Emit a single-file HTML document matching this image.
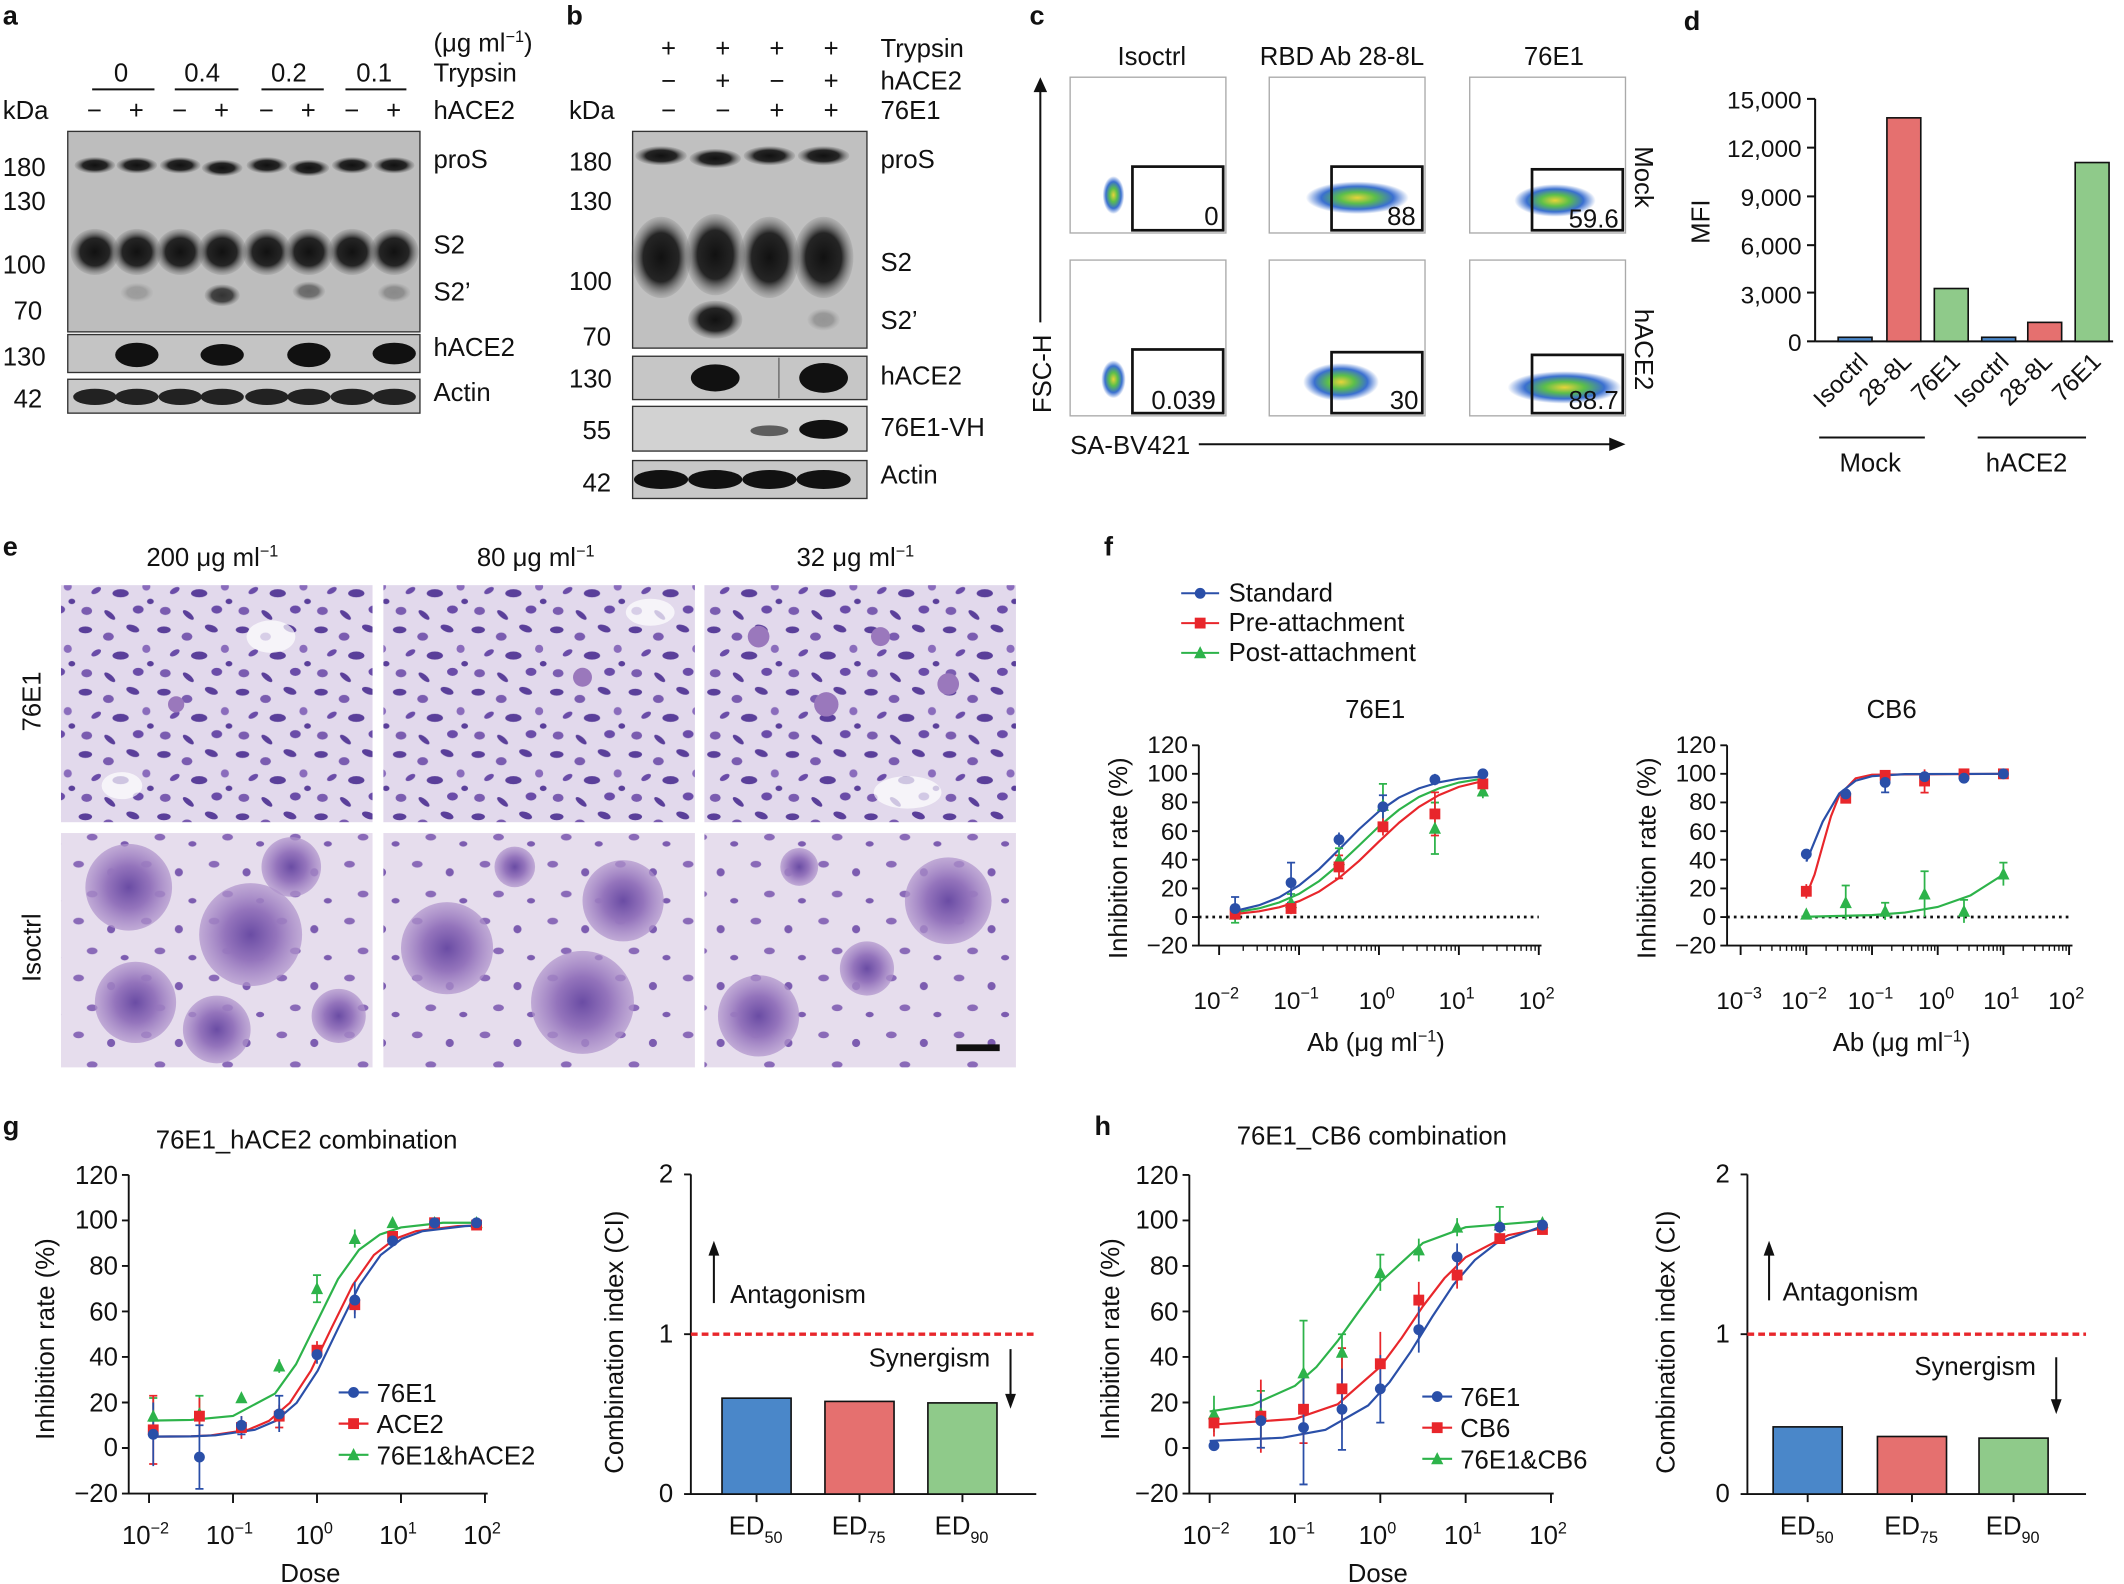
<!DOCTYPE html>
<html><head><meta charset="utf-8">
<style>
html,body{margin:0;padding:0;background:#fff;}
svg{display:block;font-family:"Liberation Sans",Arial,sans-serif;}
</style></head>
<body>
<svg width="2124" height="1584" viewBox="0 0 1568 1169.4" xmlns="http://www.w3.org/2000/svg" xmlns:xlink="http://www.w3.org/1999/xlink">
<defs>
<radialGradient id="band"><stop offset="0" stop-color="#111"/><stop offset="0.6" stop-color="#252525"/><stop offset="1" stop-color="#777" stop-opacity="0.2"/></radialGradient>
<radialGradient id="cloud"><stop offset="0" stop-color="#e8d43a"/><stop offset="0.35" stop-color="#5cbf4a"/><stop offset="0.7" stop-color="#3a6fd0"/><stop offset="1" stop-color="#3a6fd0" stop-opacity="0"/></radialGradient>
<radialGradient id="blob"><stop offset="0" stop-color="#6a4ca4"/><stop offset="0.5" stop-color="#9474bc"/><stop offset="1" stop-color="#b094cc" stop-opacity="0.7"/></radialGradient>
<pattern id="cellsTop" width="58" height="46" patternUnits="userSpaceOnUse">
<rect width="58" height="46" fill="#e2d9ec"/>
<ellipse cx="5" cy="5" rx="5" ry="2.5" fill="#5a3f9a"/><ellipse cx="22" cy="10" rx="4" ry="3" fill="#7a5cb0"/><ellipse cx="40" cy="4" rx="5" ry="2.5" fill="#5a3f9a" transform="rotate(20 40 4)"/>
<ellipse cx="13" cy="22" rx="4" ry="2" fill="#6a4ca8" transform="rotate(-30 13 22)"/><ellipse cx="31" cy="24" rx="6" ry="3" fill="#5a3f9a"/><ellipse cx="50" cy="19" rx="3" ry="3" fill="#8a6cbc"/>
<ellipse cx="6" cy="37" rx="4" ry="3" fill="#7a5cb0"/><ellipse cx="23" cy="40" rx="5" ry="2" fill="#5a3f9a" transform="rotate(40 23 40)"/><ellipse cx="44" cy="36" rx="4" ry="3" fill="#6a4ca8"/><ellipse cx="53" cy="30" rx="2.5" ry="2" fill="#5a3f9a"/>
</pattern>
<pattern id="cellsBot" width="50" height="42" patternUnits="userSpaceOnUse">
<rect width="50" height="42" fill="#e6dded"/>
<ellipse cx="8" cy="8" rx="4" ry="2.5" fill="#8a6ab8"/><ellipse cx="32" cy="14" rx="3" ry="3" fill="#7c5cb0"/><ellipse cx="18" cy="30" rx="4" ry="2.5" fill="#8a6ab8"/><ellipse cx="42" cy="35" rx="3" ry="2" fill="#7c5cb0"/>
</pattern>
<g id="mc"><circle r="4" fill="#2a4fa8"/></g>
<g id="ms"><rect x="-4" y="-4" width="8" height="8" fill="#e8262b"/></g>
<g id="mt"><path d="M-4.5,4 L0,-5 L4.5,4Z" fill="#2db34a"/></g>
<path id="dec59" d="M17.8,0v4M28.1,0v4M35.5,0v4M41.2,0v4M45.9,0v4M49.9,0v4M53.3,0v4M56.3,0v4" stroke="#111"/>
<path id="dec48" d="M14.6,0v4M23.1,0v4M29.2,0v4M33.9,0v4M37.7,0v4M41,0v4M43.8,0v4M46.3,0v4" stroke="#111"/>
</defs>
<g font-size="19" fill="#111">
<text x="2" y="18" font-weight="bold" font-size="20">a</text>
<text x="418" y="18" font-weight="bold" font-size="20">b</text>
<text x="760" y="18" font-weight="bold" font-size="20">c</text>
<text x="1243" y="22" font-weight="bold" font-size="20">d</text>
<text x="2" y="410" font-weight="bold" font-size="20">e</text>
<text x="815" y="410" font-weight="bold" font-size="20">f</text>
<text x="2" y="838" font-weight="bold" font-size="20">g</text>
<text x="808" y="838" font-weight="bold" font-size="20">h</text>

<!-- panel a -->
<text x="320" y="38">(μg ml<tspan font-size="12" dy="-7">−1</tspan><tspan dy="7">)</tspan></text>
<text x="84" y="60">0</text><text x="136" y="60">0.4</text><text x="200" y="60">0.2</text><text x="263" y="60">0.1</text>
<g stroke="#111" stroke-width="1.5"><line x1="68" y1="66" x2="114" y2="66"/><line x1="129" y1="66" x2="176" y2="66"/><line x1="193" y1="66" x2="239" y2="66"/><line x1="255" y1="66" x2="300" y2="66"/></g>
<text x="320" y="60">Trypsin</text>
<text x="2" y="88">kDa</text>
<text x="64" y="88">−</text><text x="95" y="88">+</text><text x="127" y="88">−</text><text x="158" y="88">+</text><text x="191" y="88">−</text><text x="222" y="88">+</text><text x="254" y="88">−</text><text x="285" y="88">+</text>
<text x="320" y="88">hACE2</text>
<text x="2" y="130">180</text><text x="2" y="155">130</text><text x="2" y="202">100</text><text x="10" y="236">70</text><text x="2" y="270">130</text><text x="10" y="301">42</text>
<text x="320" y="124">proS</text><text x="320" y="187">S2</text><text x="320" y="222">S2’</text><text x="320" y="263">hACE2</text><text x="320" y="296">Actin</text>
<rect x="50" y="97" width="260" height="148" fill="#bdbdbd" stroke="#333"/>
<rect x="50" y="247" width="260" height="28" fill="#c4c4c4" stroke="#333"/>
<rect x="50" y="280" width="260" height="25" fill="#c9c9c9" stroke="#333"/>
<g fill="url(#band)">
<ellipse cx="70" cy="122" rx="15" ry="6"/><ellipse cx="101" cy="122" rx="15" ry="6"/><ellipse cx="133" cy="122" rx="15" ry="6"/><ellipse cx="164" cy="124" rx="15" ry="6"/><ellipse cx="197" cy="122" rx="15" ry="6"/><ellipse cx="228" cy="124" rx="15" ry="6"/><ellipse cx="260" cy="122" rx="15" ry="6"/><ellipse cx="291" cy="122" rx="15" ry="6"/>
<ellipse cx="70" cy="186" rx="18" ry="17"/><ellipse cx="101" cy="186" rx="18" ry="17"/><ellipse cx="133" cy="186" rx="18" ry="17"/><ellipse cx="164" cy="186" rx="18" ry="17"/><ellipse cx="197" cy="186" rx="18" ry="17"/><ellipse cx="228" cy="186" rx="18" ry="17"/><ellipse cx="260" cy="186" rx="18" ry="17"/><ellipse cx="291" cy="186" rx="18" ry="17"/>
<ellipse cx="164" cy="218" rx="13" ry="8" opacity="0.8"/><ellipse cx="228" cy="215" rx="12" ry="7" opacity="0.5"/><ellipse cx="291" cy="216" rx="12" ry="7" opacity="0.3"/><ellipse cx="101" cy="216" rx="12" ry="7" opacity="0.2"/>
</g>
<g fill="#111"><ellipse cx="101" cy="262" rx="16" ry="9"/><ellipse cx="164" cy="262" rx="16" ry="8"/><ellipse cx="228" cy="262" rx="16" ry="9"/><ellipse cx="291" cy="261" rx="16" ry="8"/></g>
<g fill="#222"><ellipse cx="70" cy="293" rx="16" ry="6"/><ellipse cx="101" cy="293" rx="16" ry="6"/><ellipse cx="133" cy="293" rx="16" ry="6"/><ellipse cx="164" cy="293" rx="16" ry="6"/><ellipse cx="197" cy="293" rx="16" ry="6"/><ellipse cx="228" cy="293" rx="16" ry="6"/><ellipse cx="260" cy="293" rx="16" ry="6"/><ellipse cx="291" cy="293" rx="16" ry="6"/></g>

<!-- panel b -->
<text x="488" y="42">+</text><text x="528" y="42">+</text><text x="568" y="42">+</text><text x="608" y="42">+</text><text x="650" y="42">Trypsin</text>
<text x="488" y="66">−</text><text x="528" y="66">+</text><text x="568" y="66">−</text><text x="608" y="66">+</text><text x="650" y="66">hACE2</text>
<text x="420" y="88">kDa</text>
<text x="488" y="88">−</text><text x="528" y="88">−</text><text x="568" y="88">+</text><text x="608" y="88">+</text><text x="650" y="88">76E1</text>
<text x="420" y="126">180</text><text x="420" y="155">130</text><text x="420" y="214">100</text><text x="430" y="255">70</text><text x="420" y="286">130</text><text x="430" y="324">55</text><text x="430" y="363">42</text>
<text x="650" y="124">proS</text><text x="650" y="200">S2</text><text x="650" y="243">S2’</text><text x="650" y="284">hACE2</text><text x="650" y="322">76E1-VH</text><text x="650" y="357">Actin</text>
<rect x="467" y="97" width="173" height="160" fill="#c0c0c0" stroke="#333"/>
<rect x="467" y="263" width="173" height="32" fill="#c6c6c6" stroke="#333"/>
<rect x="467" y="300" width="173" height="33" fill="#d2d2d2" stroke="#333"/>
<rect x="467" y="340" width="173" height="28" fill="#c8c8c8" stroke="#333"/>
<g fill="url(#band)">
<ellipse cx="488" cy="115" rx="19" ry="7"/><ellipse cx="528" cy="117" rx="19" ry="7"/><ellipse cx="568" cy="115" rx="19" ry="7"/><ellipse cx="608" cy="115" rx="19" ry="7"/>
<ellipse cx="488" cy="190" rx="22" ry="30"/><ellipse cx="528" cy="188" rx="22" ry="30"/><ellipse cx="568" cy="190" rx="22" ry="30"/><ellipse cx="608" cy="190" rx="22" ry="30"/>
<ellipse cx="528" cy="236" rx="20" ry="14"/><ellipse cx="608" cy="236" rx="12" ry="8" opacity="0.25"/>
</g>
<g fill="#111"><ellipse cx="528" cy="279" rx="18" ry="10"/><ellipse cx="608" cy="279" rx="18" ry="11"/><ellipse cx="568" cy="318" rx="14" ry="4" opacity="0.6"/><ellipse cx="608" cy="317" rx="18" ry="7"/>
<ellipse cx="488" cy="354" rx="20" ry="7"/><ellipse cx="528" cy="354" rx="20" ry="7"/><ellipse cx="568" cy="354" rx="20" ry="7"/><ellipse cx="608" cy="354" rx="20" ry="7"/></g>
<line x1="575" y1="264" x2="575" y2="294" stroke="#666"/>

<!-- panel c -->
<text x="825" y="48">Isoctrl</text><text x="930" y="48">RBD Ab 28-8L</text><text x="1125" y="48">76E1</text>
<g fill="none" stroke="#aaa"><rect x="790" y="57" width="115" height="115"/><rect x="937" y="57" width="115" height="115"/><rect x="1085" y="57" width="115" height="115"/><rect x="790" y="192" width="115" height="115"/><rect x="937" y="192" width="115" height="115"/><rect x="1085" y="192" width="115" height="115"/></g>
<g fill="url(#cloud)">
<ellipse cx="822" cy="144" rx="8" ry="14"/><ellipse cx="1002" cy="146" rx="38" ry="12"/><ellipse cx="1148" cy="148" rx="30" ry="12"/>
<ellipse cx="822" cy="280" rx="9" ry="14"/><ellipse cx="990" cy="282" rx="28" ry="14"/><ellipse cx="1155" cy="286" rx="42" ry="12"/></g>
<g fill="none" stroke="#111" stroke-width="2"><rect x="836" y="123" width="67" height="47"/><rect x="983" y="123" width="67" height="47"/><rect x="1131" y="125" width="67" height="45"/><rect x="836" y="258" width="67" height="47"/><rect x="983" y="260" width="67" height="45"/><rect x="1131" y="262" width="67" height="43"/></g>
<text x="889" y="166">0</text><text x="1024" y="166">88</text><text x="1158" y="168">59.6</text>
<text x="850" y="302">0.039</text><text x="1026" y="302">30</text><text x="1158" y="302">88.7</text>
<text transform="translate(1207,108) rotate(90)">Mock</text>
<text transform="translate(1207,228) rotate(90)">hACE2</text>
<line x1="768" y1="238" x2="768" y2="65" stroke="#111" stroke-width="1.5"/><path d="M763,68 L768,57 L773,68Z"/>
<text transform="translate(776,305) rotate(-90)">FSC-H</text>
<text x="790" y="335">SA-BV421</text>
<line x1="885" y1="328" x2="1190" y2="328" stroke="#111" stroke-width="1.5"/><path d="M1188,323 L1200,328 L1188,333Z"/>

<!-- panel d -->
<g font-size="18" text-anchor="end">
<text x="1330" y="80">15,000</text><text x="1330" y="116">12,000</text><text x="1330" y="152">9,000</text><text x="1330" y="188">6,000</text><text x="1330" y="224">3,000</text><text x="1330" y="259">0</text></g>
<text transform="translate(1262,180) rotate(-90)">MFI</text>
<g stroke="#111" stroke-width="1.5"><line x1="1340" y1="73" x2="1340" y2="252"/><line x1="1340" y1="252" x2="1560" y2="252"/>
<line x1="1334" y1="73" x2="1340" y2="73"/><line x1="1334" y1="109" x2="1340" y2="109"/><line x1="1334" y1="145" x2="1340" y2="145"/><line x1="1334" y1="181" x2="1340" y2="181"/><line x1="1334" y1="216" x2="1340" y2="216"/><line x1="1334" y1="252" x2="1340" y2="252"/></g>
<g stroke="#111" stroke-width="1.2">
<rect x="1357" y="249" width="25" height="3" fill="#4a87c9"/>
<rect x="1393" y="87" width="25" height="165" fill="#e5706f"/>
<rect x="1428" y="213" width="25" height="39" fill="#8fca8a"/>
<rect x="1463" y="249" width="25" height="3" fill="#4a87c9"/>
<rect x="1497" y="238" width="25" height="14" fill="#e5706f"/>
<rect x="1532" y="120" width="25" height="132" fill="#8fca8a"/></g>
<g font-size="18">
<text transform="translate(1380,268) rotate(-45)" text-anchor="end">Isoctrl</text>
<text transform="translate(1412,268) rotate(-45)" text-anchor="end">28-8L</text>
<text transform="translate(1448,268) rotate(-45)" text-anchor="end">76E1</text>
<text transform="translate(1484,268) rotate(-45)" text-anchor="end">Isoctrl</text>
<text transform="translate(1516,268) rotate(-45)" text-anchor="end">28-8L</text>
<text transform="translate(1552,268) rotate(-45)" text-anchor="end">76E1</text></g>
<line x1="1343" y1="323" x2="1421" y2="323" stroke="#111" stroke-width="1.5"/>
<line x1="1460" y1="323" x2="1540" y2="323" stroke="#111" stroke-width="1.5"/>
<text x="1358" y="348">Mock</text><text x="1466" y="348">hACE2</text>

<!-- panel e -->
<text x="108" y="418">200 μg ml<tspan font-size="12" dy="-7">−1</tspan></text>
<text x="352" y="418">80 μg ml<tspan font-size="12" dy="-7">−1</tspan></text>
<text x="588" y="418">32 μg ml<tspan font-size="12" dy="-7">−1</tspan></text>
<text transform="translate(30,540) rotate(-90)">76E1</text>
<text transform="translate(30,725) rotate(-90)">Isoctrl</text>
<rect x="45" y="432" width="230" height="175" fill="url(#cellsTop)"/>
<rect x="283" y="432" width="230" height="175" fill="url(#cellsTop)"/>
<rect x="520" y="432" width="230" height="175" fill="url(#cellsTop)"/>
<g fill="#fff" opacity="0.7"><ellipse cx="200" cy="470" rx="18" ry="12"/><ellipse cx="480" cy="452" rx="18" ry="10"/><ellipse cx="670" cy="585" rx="25" ry="12"/><ellipse cx="90" cy="580" rx="15" ry="10"/></g>
<g fill="#9a78bc"><circle cx="560" cy="470" r="8"/><circle cx="610" cy="520" r="9"/><circle cx="700" cy="505" r="8"/><circle cx="650" cy="470" r="7"/><circle cx="430" cy="500" r="7"/><circle cx="130" cy="520" r="6"/></g>
<rect x="45" y="615" width="230" height="173" fill="url(#cellsBot)"/>
<rect x="283" y="615" width="230" height="173" fill="url(#cellsBot)"/>
<rect x="520" y="615" width="230" height="173" fill="url(#cellsBot)"/>
<g fill="url(#blob)">
<circle cx="95" cy="655" r="32"/><circle cx="185" cy="690" r="38"/><circle cx="215" cy="640" r="22"/><circle cx="100" cy="740" r="30"/><circle cx="160" cy="760" r="25"/><circle cx="250" cy="750" r="20"/>
<circle cx="460" cy="665" r="30"/><circle cx="330" cy="700" r="34"/><circle cx="430" cy="740" r="38"/><circle cx="380" cy="640" r="15"/>
<circle cx="700" cy="665" r="32"/><circle cx="640" cy="715" r="20"/><circle cx="560" cy="750" r="30"/><circle cx="590" cy="640" r="14"/></g>
<rect x="706" y="771" width="32" height="5" fill="#111"/>

<!-- panel f legend -->
<line x1="872" y1="438" x2="900" y2="438" stroke="#2a4fa8" stroke-width="1.5"/><use xlink:href="#mc" x="886" y="438"/><text x="907" y="444">Standard</text>
<line x1="872" y1="460" x2="900" y2="460" stroke="#e8262b" stroke-width="1.5"/><use xlink:href="#ms" x="886" y="460"/><text x="907" y="466">Pre-attachment</text>
<line x1="872" y1="482" x2="900" y2="482" stroke="#2db34a" stroke-width="1.5"/><use xlink:href="#mt" x="886" y="482"/><text x="907" y="488">Post-attachment</text>
<text x="993" y="530">76E1</text><text x="1378" y="530">CB6</text>
<text transform="translate(832,708) rotate(-90)">Inhibition rate (%)</text>
<text transform="translate(1222,708) rotate(-90)">Inhibition rate (%)</text>
<text x="965" y="776">Ab (μg ml<tspan font-size="12" dy="-7">−1</tspan><tspan dy="7">)</tspan></text>
<text x="1353" y="776">Ab (μg ml<tspan font-size="12" dy="-7">−1</tspan><tspan dy="7">)</tspan></text>

<!-- f1 axes -->
<g stroke="#111" stroke-width="1.4" fill="none">
<path d="M885,550.2V698.1H1138"/>
<path d="M880,698.1h5M880,677h5M880,655.9h5M880,634.7h5M880,613.6h5M880,592.4h5M880,571.3h5M880,550.2h5"/>
<path d="M900,698v7M959,698v7M1018,698v7M1077,698v7M1136,698v7"/>
<path d="M885,677H1136" stroke-width="2" stroke-dasharray="2,3"/>
<path d="M1275,550.2V698.1H1530"/>
<path d="M1270,698.1h5M1270,677h5M1270,655.9h5M1270,634.7h5M1270,613.6h5M1270,592.4h5M1270,571.3h5M1270,550.2h5"/>
<path d="M1285,698v7M1333.5,698v7M1382,698v7M1430.5,698v7M1479,698v7M1527.5,698v7"/>
<path d="M1275,677H1527" stroke-width="2" stroke-dasharray="2,3"/>
</g>
<use xlink:href="#dec59" x="900" y="698"/><use xlink:href="#dec59" x="959" y="698"/><use xlink:href="#dec59" x="1018" y="698"/><use xlink:href="#dec59" x="1077" y="698"/>
<use xlink:href="#dec48" x="1285" y="698"/><use xlink:href="#dec48" x="1333.5" y="698"/><use xlink:href="#dec48" x="1382" y="698"/><use xlink:href="#dec48" x="1430.5" y="698"/><use xlink:href="#dec48" x="1479" y="698"/>
<g text-anchor="end" font-size="18">
<text x="877" y="704">−20</text><text x="877" y="683">0</text><text x="877" y="662">20</text><text x="877" y="641">40</text><text x="877" y="620">60</text><text x="877" y="598">80</text><text x="877" y="577">100</text><text x="877" y="556">120</text>
<text x="1267" y="704">−20</text><text x="1267" y="683">0</text><text x="1267" y="662">20</text><text x="1267" y="641">40</text><text x="1267" y="620">60</text><text x="1267" y="598">80</text><text x="1267" y="577">100</text><text x="1267" y="556">120</text>
</g>
<g font-size="18">
<text x="881" y="745">10<tspan font-size="12" dy="-8">−2</tspan></text><text x="940" y="745">10<tspan font-size="12" dy="-8">−1</tspan></text><text x="1003" y="745">10<tspan font-size="12" dy="-8">0</tspan></text><text x="1062" y="745">10<tspan font-size="12" dy="-8">1</tspan></text><text x="1121" y="745">10<tspan font-size="12" dy="-8">2</tspan></text>
<text x="1267" y="745">10<tspan font-size="12" dy="-8">−3</tspan></text><text x="1315" y="745">10<tspan font-size="12" dy="-8">−2</tspan></text><text x="1364" y="745">10<tspan font-size="12" dy="-8">−1</tspan></text><text x="1416" y="745">10<tspan font-size="12" dy="-8">0</tspan></text><text x="1464" y="745">10<tspan font-size="12" dy="-8">1</tspan></text><text x="1512" y="745">10<tspan font-size="12" dy="-8">2</tspan></text>
</g>
<!-- f1 series -->
<g fill="none" stroke-width="1.6">
<polyline stroke="#2db34a" points="911.8,673.5 929.5,670.6 944.3,666.3 959,659.9 973.8,650.5 988.5,638.2 1003.3,624.2 1018,610.1 1032.8,597.8 1047.5,588.4 1062.3,582 1077,577.7 1094.7,574.8"/>
<polyline stroke="#e8262b" points="911.8,674.8 929.5,672.8 944.3,669.8 959,665.3 973.8,658.2 988.5,648.2 1003.3,635.6 1018,621.3 1032.8,607.4 1047.5,595.7 1062.3,587 1077,580.9 1094.7,576.6"/>
<polyline stroke="#2a4fa8" points="911.8,672.5 929.5,668.3 944.3,662.5 959,653.7 973.8,641.7 988.5,627.2 1003.3,612.2 1018,599 1032.8,588.8 1047.5,582 1062.3,577.5 1077,574.9 1094.7,573.2"/>
<path stroke="#2db34a" stroke-width="1.3" d="M911.8,668.6V681.2M953.1,660V672.8M988.5,626.2V643.2M1020.95,578.7V610.5M1059.3,592.5V630.5M1094.7,578.7V589.3M908.8,668.6h6M908.8,681.2h6M950.1,660h6M950.1,672.8h6M985.5,626.2h6M985.5,643.2h6M1017.95,578.7h6M1017.95,610.5h6M1056.3,592.5h6M1056.3,630.5h6"/>
<path stroke="#e8262b" stroke-width="1.3" d="M953.1,666.5V674.9M988.5,631.5V648.5M1020.95,604V616.8M1059.3,585V616.8M1094.7,574.5V583M1056.3,585h6M1056.3,616.8h6M985.5,631.5h6M985.5,648.5h6"/>
<path stroke="#2a4fa8" stroke-width="1.3" d="M911.8,662.2V679.2M953.1,636.8V666.4M988.5,614.6V625.2M1020.95,587.1V604.1M1059.3,571.3V579.7M908.8,662.2h6M950.1,636.8h6M950.1,666.4h6M1017.95,587.1h6"/>
</g>
<use xlink:href="#mt" x="911.8" y="674.9"/><use xlink:href="#mt" x="953.1" y="666.4"/><use xlink:href="#mt" x="988.5" y="634.7"/><use xlink:href="#mt" x="1020.95" y="594.6"/><use xlink:href="#mt" x="1059.3" y="611.5"/><use xlink:href="#mt" x="1094.7" y="584"/>
<use xlink:href="#ms" x="911.8" y="674.9"/><use xlink:href="#ms" x="953.1" y="670.7"/><use xlink:href="#ms" x="988.5" y="640"/><use xlink:href="#ms" x="1020.95" y="610.4"/><use xlink:href="#ms" x="1059.3" y="600.9"/><use xlink:href="#ms" x="1094.7" y="578.7"/>
<use xlink:href="#mc" x="911.8" y="670.7"/><use xlink:href="#mc" x="953.1" y="651.6"/><use xlink:href="#mc" x="988.5" y="619.9"/><use xlink:href="#mc" x="1020.95" y="595.6"/><use xlink:href="#mc" x="1059.3" y="575.5"/><use xlink:href="#mc" x="1094.7" y="571.3"/>
<!-- f2 series -->
<g fill="none" stroke-width="1.6">
<polyline stroke="#2db34a" points="1333.5,676.8 1382,675.6 1406.3,673.7 1430.5,669.6 1454.8,661 1479,645.6"/>
<polyline stroke="#e8262b" points="1333.5,661 1339.6,645.6 1345.6,624.2 1351.7,602.7 1357.8,587.3 1369.9,574.6 1382,571.9 1479,571.3"/>
<polyline stroke="#2a4fa8" points="1333.5,636.1 1345.6,606.6 1357.8,585.8 1369.9,576.4 1382,573 1406.3,571.5 1479,571.3"/>
<path stroke="#2db34a" stroke-width="1.3" d="M1362.6,653.7V679.1M1391.7,666.5V679.1M1420.8,643.2V677M1449.9,664.3V681.3M1479,636.8V653.8M1359.6,653.7h6M1388.7,666.5h6M1417.8,643.2h6M1446.9,664.3h6M1476,636.8h6"/>
<path stroke="#e8262b" stroke-width="1.3" d="M1333.5,652.7V663.3M1420.8,568V585.2M1417.8,585.2h6"/>
<path stroke="#2a4fa8" stroke-width="1.3" d="M1391.7,570.2V585M1388.7,585h6"/>
</g>
<use xlink:href="#mt" x="1333.5" y="674.9"/><use xlink:href="#mt" x="1362.6" y="666.4"/><use xlink:href="#mt" x="1391.7" y="672.8"/><use xlink:href="#mt" x="1420.8" y="660.1"/><use xlink:href="#mt" x="1449.9" y="672.8"/><use xlink:href="#mt" x="1479" y="645.3"/>
<use xlink:href="#ms" x="1333.5" y="658"/><use xlink:href="#ms" x="1362.6" y="589.3"/><use xlink:href="#ms" x="1391.7" y="572.4"/><use xlink:href="#ms" x="1420.8" y="576.6"/><use xlink:href="#ms" x="1449.9" y="571.3"/><use xlink:href="#ms" x="1479" y="571.3"/>
<use xlink:href="#mc" x="1333.5" y="630.5"/><use xlink:href="#mc" x="1362.6" y="586.1"/><use xlink:href="#mc" x="1391.7" y="577.6"/><use xlink:href="#mc" x="1420.8" y="573.4"/><use xlink:href="#mc" x="1449.9" y="574.5"/><use xlink:href="#mc" x="1479" y="571.3"/>

<!-- g/h titles -->
<text x="115" y="848">76E1_hACE2 combination</text>
<text x="913" y="845">76E1_CB6 combination</text>
<text x="207" y="1168">Dose</text><text x="995" y="1168">Dose</text>
<text transform="translate(40,1063) rotate(-90)">Inhibition rate (%)</text>
<text transform="translate(826,1063) rotate(-90)">Inhibition rate (%)</text>
<text transform="translate(460,1088) rotate(-90)">Combination index (CI)</text>
<text transform="translate(1236,1088) rotate(-90)">Combination index (CI)</text>

<!-- g/h axes -->
<g stroke="#111" stroke-width="1.4" fill="none">
<path d="M95,867.4V1102.6H360"/>
<path d="M90,1102.6h5M90,1069h5M90,1035.4h5M90,1001.8h5M90,968.2h5M90,934.6h5M90,901h5M90,867.4h5"/>
<path d="M110,1102.6v7M172,1102.6v7M234,1102.6v7M296,1102.6v7M358,1102.6v7"/>
<path d="M878,867.4V1102.6H1147"/>
<path d="M873,1102.6h5M873,1069h5M873,1035.4h5M873,1001.8h5M873,968.2h5M873,934.6h5M873,901h5M873,867.4h5"/>
<path d="M893,1102.6v7M956,1102.6v7M1019,1102.6v7M1082,1102.6v7M1145,1102.6v7"/>
</g>
<g text-anchor="end" font-size="19">
<text x="87" y="1109">−20</text><text x="87" y="1075">0</text><text x="87" y="1042">20</text><text x="87" y="1008">40</text><text x="87" y="975">60</text><text x="87" y="941">80</text><text x="87" y="907">100</text><text x="87" y="874">120</text>
<text x="870" y="1109">−20</text><text x="870" y="1075">0</text><text x="870" y="1042">20</text><text x="870" y="1008">40</text><text x="870" y="975">60</text><text x="870" y="941">80</text><text x="870" y="907">100</text><text x="870" y="874">120</text>
</g>
<g font-size="19">
<text x="90" y="1140">10<tspan font-size="12" dy="-8">−2</tspan></text><text x="152" y="1140">10<tspan font-size="12" dy="-8">−1</tspan></text><text x="218" y="1140">10<tspan font-size="12" dy="-8">0</tspan></text><text x="280" y="1140">10<tspan font-size="12" dy="-8">1</tspan></text><text x="342" y="1140">10<tspan font-size="12" dy="-8">2</tspan></text>
<text x="873" y="1140">10<tspan font-size="12" dy="-8">−2</tspan></text><text x="936" y="1140">10<tspan font-size="12" dy="-8">−1</tspan></text><text x="1003" y="1140">10<tspan font-size="12" dy="-8">0</tspan></text><text x="1066" y="1140">10<tspan font-size="12" dy="-8">1</tspan></text><text x="1129" y="1140">10<tspan font-size="12" dy="-8">2</tspan></text>
</g>
<!-- g1 series -->
<g fill="none" stroke-width="1.6">
<polyline stroke="#2db34a" points="110,1048.8 141,1048.3 172,1045.3 203,1028.8 218.5,1007.2 234,975.8 249.5,944.3 265,922.7 280.5,911.4 296,906.2 327,902.7 352,902.7"/>
<polyline stroke="#e8262b" points="110,1060.6 141,1060.4 156,1059.6 183,1055.6 198.5,1049 214,1035.6 229.5,1011.9 245,979.8 260.5,948.5 276,926.5 291.5,914.6 307,908.9 338,905.2 352,904.8"/>
<polyline stroke="#2a4fa8" points="110,1060.6 141,1060.4 159,1059.6 188,1055.6 203.5,1049 219,1035.6 234.5,1011.9 250,979.8 265.5,948.5 281,926.5 296.5,914.6 312,908.9 343,905.2 352,904.8"/>
<path stroke="#2db34a" stroke-width="1.3" d="M113.1,1032.1V1058.9M147.2,1030.4V1057.2M178.2,1028.6V1035.4M206.1,1003.5V1013.5M234,941.4V961.4M261.9,907.7V921.1M110.1,1032.1h6M144.2,1030.4h6M231,941.4h6M231,961.4h6"/>
<path stroke="#e8262b" stroke-width="1.3" d="M113.1,1030.4V1080.8M147.2,1032.1V1058.9M178.2,1045.5V1062.3M206.1,1037.1V1053.9M234,990.1V1003.5M261.9,956.5V969.9M110.1,1030.4h6M110.1,1080.8h6M203.1,1053.9h6"/>
<path stroke="#2a4fa8" stroke-width="1.3" d="M113.1,1035.4V1082.4M147.2,1052.2V1099.2M178.2,1045.5V1058.9M206.1,1030.4V1057.2M234,993.4V1006.8M261.9,946.4V973.2M144.2,1052.2h6M144.2,1099.2h6M175.2,1058.9h6M203.1,1030.4h6"/>
</g>
<use xlink:href="#mt" x="113.1" y="1045.5"/><use xlink:href="#mt" x="147.2" y="1043.8"/><use xlink:href="#mt" x="178.2" y="1032"/><use xlink:href="#mt" x="206.1" y="1008.5"/><use xlink:href="#mt" x="234" y="951.4"/><use xlink:href="#mt" x="261.9" y="914.4"/><use xlink:href="#mt" x="289.8" y="902.7"/><use xlink:href="#mt" x="320.8" y="902.7"/><use xlink:href="#mt" x="351.8" y="902.7"/>
<use xlink:href="#ms" x="113.1" y="1055.6"/><use xlink:href="#ms" x="147.2" y="1045.5"/><use xlink:href="#ms" x="178.2" y="1053.9"/><use xlink:href="#ms" x="206.1" y="1045.5"/><use xlink:href="#ms" x="234" y="996.8"/><use xlink:href="#ms" x="261.9" y="963.2"/><use xlink:href="#ms" x="289.8" y="912.8"/><use xlink:href="#ms" x="320.8" y="902.7"/><use xlink:href="#ms" x="351.8" y="904.4"/>
<use xlink:href="#mc" x="113.1" y="1058.9"/><use xlink:href="#mc" x="147.2" y="1075.7"/><use xlink:href="#mc" x="178.2" y="1052.2"/><use xlink:href="#mc" x="206.1" y="1043.8"/><use xlink:href="#mc" x="234" y="1000.1"/><use xlink:href="#mc" x="261.9" y="959.8"/><use xlink:href="#mc" x="289.8" y="916.1"/><use xlink:href="#mc" x="320.8" y="902.7"/><use xlink:href="#mc" x="351.8" y="902.7"/>
<!-- h1 series -->
<g fill="none" stroke-width="1.6">
<polyline stroke="#2db34a" points="893,1042 924.5,1037.2 956,1023.1 971.8,1009.2 987.5,990 1003.3,967.9 1019,946.5 1050.5,917.6 1082,906 1140,901.3"/>
<polyline stroke="#e8262b" points="893,1051.9 956,1047.5 987.5,1036.7 1019,1009 1034.8,987.7 1050.5,964.3 1066.3,943.7 1082,928.2 1113.5,911.9 1140,906.5"/>
<polyline stroke="#2a4fa8" points="893,1063.8 947,1061.4 978.5,1055.6 1010,1037.6 1025.8,1020.4 1041.5,997.8 1057.3,972.2 1073,948.5 1088.8,930.2 1104.5,918 1136,906.2 1140,905.8"/>
<path stroke="#2db34a" stroke-width="1.3" d="M896.2,1030.4V1057.2M930.8,1026.8V1060.8M962.3,975V1052.2M990.7,985V1011.8M1019,926.2V953M1047.4,914.4V931.2M1075.7,899.3V912.7M1107.2,891V917.8M959.3,975h6M927.8,1026.8h6M987.7,985h6M1016,926.2h6M1104.2,891h6"/>
<path stroke="#e8262b" stroke-width="1.3" d="M896.2,1040.5V1060.5M930.8,1018.5V1072.5M962.3,1015.4V1065.4M990.7,995.3V1055.3M1019,983.3V1030.3M1047.4,946.4V973.2M1075.7,931.3V951.3M987.7,995.3h6M959.3,1065.4h6"/>
<path stroke="#2a4fa8" stroke-width="1.3" d="M930.8,1028.8V1068.8M962.3,1011.9V1095.9M990.7,1010.4V1070.4M1019,1000.3V1050.3M1047.4,964.6V998.6M1075.7,917.9V937.9M959.3,1095.9h6M987.7,1070.4h6M1016,1050.3h6M927.8,1068.8h6"/>
</g>
<use xlink:href="#mt" x="896.2" y="1043.8"/><use xlink:href="#mt" x="930.8" y="1043.8"/><use xlink:href="#mt" x="962.3" y="1013.6"/><use xlink:href="#mt" x="990.7" y="998.4"/><use xlink:href="#mt" x="1019" y="939.6"/><use xlink:href="#mt" x="1047.4" y="922.8"/><use xlink:href="#mt" x="1075.7" y="906"/><use xlink:href="#mt" x="1107.2" y="904.4"/><use xlink:href="#mt" x="1138.7" y="902.7"/>
<use xlink:href="#ms" x="896.2" y="1050.5"/><use xlink:href="#ms" x="930.8" y="1045.5"/><use xlink:href="#ms" x="962.3" y="1040.4"/><use xlink:href="#ms" x="990.7" y="1025.3"/><use xlink:href="#ms" x="1019" y="1006.8"/><use xlink:href="#ms" x="1047.4" y="959.8"/><use xlink:href="#ms" x="1075.7" y="941.3"/><use xlink:href="#ms" x="1107.2" y="914.4"/><use xlink:href="#ms" x="1138.7" y="907.7"/>
<use xlink:href="#mc" x="896.2" y="1067.3"/><use xlink:href="#mc" x="930.8" y="1048.8"/><use xlink:href="#mc" x="962.3" y="1053.9"/><use xlink:href="#mc" x="990.7" y="1040.4"/><use xlink:href="#mc" x="1019" y="1025.3"/><use xlink:href="#mc" x="1047.4" y="981.6"/><use xlink:href="#mc" x="1075.7" y="927.9"/><use xlink:href="#mc" x="1107.2" y="906"/><use xlink:href="#mc" x="1138.7" y="904.4"/>

<!-- g/h legends -->
<line x1="250" y1="1028" x2="272" y2="1028" stroke="#2a4fa8" stroke-width="1.6"/><use xlink:href="#mc" x="261" y="1028"/><text x="278" y="1035">76E1</text>
<line x1="250" y1="1051" x2="272" y2="1051" stroke="#e8262b" stroke-width="1.6"/><use xlink:href="#ms" x="261" y="1051"/><text x="278" y="1058">ACE2</text>
<line x1="250" y1="1074" x2="272" y2="1074" stroke="#2db34a" stroke-width="1.6"/><use xlink:href="#mt" x="261" y="1074"/><text x="278" y="1081">76E1&amp;hACE2</text>
<line x1="1050" y1="1031" x2="1072" y2="1031" stroke="#2a4fa8" stroke-width="1.6"/><use xlink:href="#mc" x="1061" y="1031"/><text x="1078" y="1038">76E1</text>
<line x1="1050" y1="1054" x2="1072" y2="1054" stroke="#e8262b" stroke-width="1.6"/><use xlink:href="#ms" x="1061" y="1054"/><text x="1078" y="1061">CB6</text>
<line x1="1050" y1="1077" x2="1072" y2="1077" stroke="#2db34a" stroke-width="1.6"/><use xlink:href="#mt" x="1061" y="1077"/><text x="1078" y="1084">76E1&amp;CB6</text>

<!-- CI charts -->
<g stroke="#111" stroke-width="1.4" fill="none">
<path d="M510,867V1103H765M505,867h5M505,985h5M505,1103h5M558.5,1103v6M634.5,1103v6M710.5,1103v6"/>
<path d="M1290,867V1103H1540M1285,867h5M1285,985h5M1285,1103h5M1334.5,1103v6M1411.5,1103v6M1486.5,1103v6"/>
</g>
<g text-anchor="end"><text x="497" y="873">2</text><text x="497" y="991">1</text><text x="497" y="1109">0</text><text x="1277" y="873">2</text><text x="1277" y="991">1</text><text x="1277" y="1109">0</text></g>
<line x1="510" y1="985" x2="765" y2="985" stroke="#e8262b" stroke-width="2.5" stroke-dasharray="5,3"/>
<line x1="1290" y1="985" x2="1540" y2="985" stroke="#e8262b" stroke-width="2.5" stroke-dasharray="5,3"/>
<g stroke="#111" stroke-width="1.2">
<rect x="533" y="1032.2" width="51" height="70.8" fill="#4a87c9"/><rect x="609" y="1034.6" width="51" height="68.4" fill="#e5706f"/><rect x="685" y="1035.7" width="51" height="67.3" fill="#8fca8a"/>
<rect x="1309" y="1053.4" width="51" height="49.6" fill="#4a87c9"/><rect x="1386" y="1060.5" width="51" height="42.5" fill="#e5706f"/><rect x="1461" y="1061.7" width="51" height="41.3" fill="#8fca8a"/></g>
<text x="538" y="1133">ED<tspan font-size="12" dy="6">50</tspan></text><text x="614" y="1133">ED<tspan font-size="12" dy="6">75</tspan></text><text x="690" y="1133">ED<tspan font-size="12" dy="6">90</tspan></text>
<text x="1314" y="1133">ED<tspan font-size="12" dy="6">50</tspan></text><text x="1391" y="1133">ED<tspan font-size="12" dy="6">75</tspan></text><text x="1466" y="1133">ED<tspan font-size="12" dy="6">90</tspan></text>
<line x1="527" y1="962" x2="527" y2="925" stroke="#111" stroke-width="1.5"/><path d="M523,927L527,916L531,927Z"/>
<text x="539" y="962">Antagonism</text>
<text x="731" y="1009" text-anchor="end">Synergism</text>
<line x1="746" y1="996" x2="746" y2="1031" stroke="#111" stroke-width="1.5"/><path d="M742,1029L746,1040L750,1029Z"/>
<line x1="1306" y1="960" x2="1306" y2="925" stroke="#111" stroke-width="1.5"/><path d="M1302,927L1306,916L1310,927Z"/>
<text x="1316" y="960">Antagonism</text>
<text x="1503" y="1015" text-anchor="end">Synergism</text>
<line x1="1518" y1="1002" x2="1518" y2="1035" stroke="#111" stroke-width="1.5"/><path d="M1514,1033L1518,1044L1522,1033Z"/>
</g>
</svg>
</body></html>
